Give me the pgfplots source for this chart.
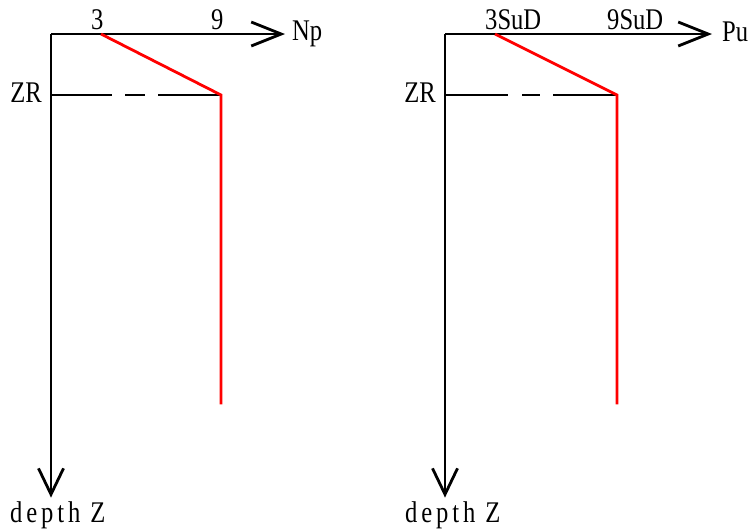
\documentclass[border=0pt]{standalone}
\usepackage{pgfplots}
\pgfplotsset{compat=1.18}
\usetikzlibrary{arrows.meta}
\usepackage{fontspec}
\setmainfont{Liberation Serif}[FakeStretch=0.82]
\newfontfamily\widefont{Liberation Serif}[FakeStretch=0.82, LetterSpace=13]

% Shared style for the two depth profiles: depth grows downward,
% the quantity grows to the right, both axes end in open arrow heads.
\pgfplotsset{
  profile/.style={
    scale only axis,
    axis x line=top,
    axis y line=left,
    y dir=reverse,
    enlargelimits=false,
    clip=false,
    ymin=0, ymax=7.6, height=463.6pt,
    major tick length=0pt,
    ytick={1}, yticklabels={ZR},
    xtick={3,9},
    /pgf/number format/assume math mode=true,
    axis line style={line width=2.8pt, black},
    x axis line style={-{Straight Barb[length=30pt,width=24pt]}},
    y axis line style={-{Straight Barb[length=26pt,width=25pt]}},
    xticklabel style={anchor=south west, inner sep=0pt, xshift=-10pt, yshift=4pt},
    yticklabel style={anchor=east, inner sep=0pt, xshift=-9pt, yshift=2pt},
  },
}

\begin{document}
\fontsize{30}{36}\selectfont
\begin{tikzpicture}
\useasboundingbox (0,0) rectangle (755pt,-530pt);

% Left panel: Np against depth
\begin{axis}[profile, at={(51pt,-34pt)}, anchor=north west,
  xmin=0.5, xmax=12.2, width=234pt, xticklabels={3,9}]
  \addplot[black, line width=2.8pt,
    dash pattern=on 61pt off 13pt on 20pt off 13pt on 150pt]
    coordinates {(0.5,1) (9,1)};
  \addplot[red, line width=2.8pt] coordinates {(3,0) (9,1) (9,6.07)};
  \node[anchor=base west, inner sep=0pt, xshift=7pt, yshift=-6pt]
    at (axis cs:12.2,0) {Np};
  \node[anchor=base west, inner sep=0pt, xshift=-41pt, yshift=-25pt]
    at (axis cs:0.5,7.6) {\widefont depth Z};
\end{axis}

% Right panel: Pu against depth
\begin{axis}[profile, at={(445pt,-34pt)}, anchor=north west,
  xmin=0.541, xmax=13.672, width=267pt, xticklabels={3SuD,9SuD}]
  \addplot[black, line width=2.8pt,
    dash pattern=on 63pt off 14pt on 18pt off 13pt on 150pt]
    coordinates {(0.541,1) (9,1)};
  \addplot[red, line width=2.8pt] coordinates {(3,0) (9,1) (9,6.07)};
  \node[anchor=base west, inner sep=0pt, xshift=10pt, yshift=-7pt]
    at (axis cs:13.672,0) {Pu};
  \node[anchor=base west, inner sep=0pt, xshift=-40pt, yshift=-25pt]
    at (axis cs:0.541,7.6) {\widefont depth Z};
\end{axis}
\end{tikzpicture}
\end{document}
